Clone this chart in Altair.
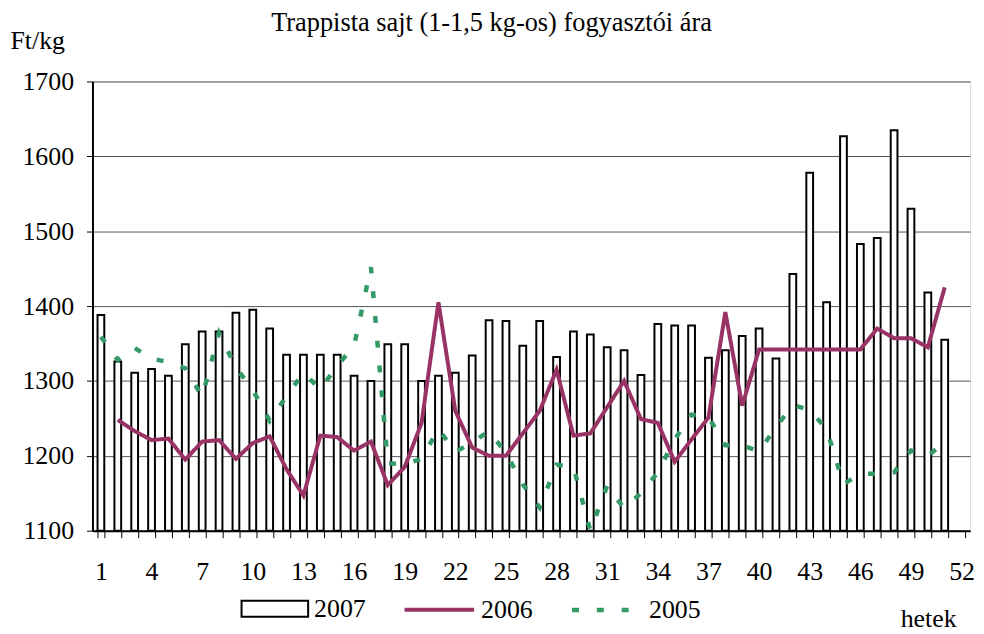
import altair as alt
import pandas as pd

# ---- data ----
weeks_all = list(range(1, 53))

weeks_2007 = list(range(1, 52))
price_2007 = [1388, 1326, 1311, 1316, 1307, 1349, 1366, 1366, 1391, 1395,
              1370, 1335, 1335, 1335, 1335, 1307, 1300, 1349, 1349, 1300,
              1307, 1311, 1334, 1381, 1380, 1347, 1380, 1332, 1366, 1362,
              1345, 1341, 1308, 1376, 1374, 1374, 1331, 1341, 1360, 1370,
              1330, 1443, 1578, 1405, 1627, 1483, 1491, 1635, 1530, 1418,
              1355]

weeks_2006 = list(range(2, 52))
price_2006 = [1248, 1233, 1221, 1223, 1195, 1219, 1221, 1196, 1217,
              1226, 1182, 1147, 1227, 1225, 1207, 1219, 1161, 1185, 1244,
              1405, 1260, 1211, 1200, 1200, 1230, 1260, 1315, 1227, 1230,
              1265, 1300, 1249, 1244, 1192, 1222, 1251, 1392, 1267, 1342,
              1342, 1342, 1342, 1342, 1342, 1342, 1370, 1357, 1357, 1345,
              1425]

weeks_2005 = list(range(1, 52))
price_2005 = [1359, 1328, 1344, 1330, 1325, 1317, 1279, 1364, 1318, 1288,
              1247, 1280, 1311, 1289, 1320, 1347, 1452, 1190, 1189, 1196,
              1236, 1205, 1218, 1233, 1204, 1162, 1131, 1188, 1185, 1100,
              1160, 1130, 1150, 1178, 1222, 1255, 1252, 1214, 1214, 1206,
              1238, 1268, 1261, 1236, 1162, 1176, 1176, 1178, 1207, 1200,
              1218]

y_ticks = [1100, 1200, 1300, 1400, 1500, 1600, 1700]
y_min, y_max = 1100, 1700

FONT = "Liberation Serif"
FS = 26
C2006 = "#993366"
C2005 = "#339966"
W, H = 883, 452

bars_df = pd.DataFrame({"week": weeks_2007, "price": price_2007, "series": "2007"})
lines_df = pd.concat([
    pd.DataFrame({"week": weeks_2006, "price": price_2006, "series": "2006"}),
    pd.DataFrame({"week": weeks_2005, "price": price_2005, "series": "2005"}),
], ignore_index=True)

x_enc = alt.X(
    "week:O",
    scale=alt.Scale(domain=weeks_all, paddingInner=0.6, paddingOuter=0.3),
    axis=alt.Axis(
        labelExpr="(datum.value - 1) % 3 == 0 ? datum.value : ''",
        labelAngle=0, labelOverlap=False, tickBand="extent",
        tickSize=7, tickColor="black", tickWidth=1,
        domainColor="black", domainWidth=2, grid=False,
        labelFont=FONT, labelFontSize=FS, labelColor="black",
        labelBaseline="alphabetic", labelPadding=42,
        title="hetek", titleFont=FONT, titleFontSize=FS, titleFontWeight="normal",
        titleColor="black", titleX=869, titleY=96, titleAlign="right",
        titleBaseline="alphabetic",
    ),
)

y_enc = alt.Y(
    "price:Q",
    scale=alt.Scale(domain=[y_min, y_max], nice=False, zero=False),
    axis=alt.Axis(
        values=y_ticks, format="d", grid=True, gridColor="#555555", gridWidth=1,
        tickSize=6, tickColor="black", tickWidth=1,
        domainColor="black", domainWidth=2,
        labelFont=FONT, labelFontSize=FS, labelColor="black", labelPadding=13,
        title="Ft/kg", titleFont=FONT, titleFontSize=FS, titleFontWeight="normal",
        titleColor="black", titleAngle=0, titleX=-83, titleY=-33,
        titleAlign="left", titleBaseline="alphabetic",
    ),
)

bars = alt.Chart(bars_df).mark_bar(stroke="black", strokeWidth=2).encode(
    x=x_enc,
    y=y_enc,
    y2=alt.datum(y_min),
    fill=alt.Fill(
        "series:N",
        scale=alt.Scale(domain=["2007"], range=["white"]),
        legend=alt.Legend(
            title=None, orient="none", legendX=149, legendY=496,
            direction="horizontal", padding=0,
            symbolType="M-1,-0.24H1V0.24H-1Z", symbolSize=4489,
            symbolStrokeColor="black", symbolStrokeWidth=2,
            labelFont=FONT, labelFontSize=FS, labelColor="black", labelOffset=5,
        ),
    ),
)

line_legend = alt.Legend(
    title=None, orient="none", legendX=312, legendY=494,
    direction="horizontal", padding=0, columnPadding=30,
    symbolType="stroke", symbolSize=4900, symbolStrokeWidth=4.2,
    labelFont=FONT, labelFontSize=FS, labelColor="black", labelOffset=5,
)

lines = alt.Chart(lines_df).mark_line().encode(
    x=x_enc,
    y=y_enc,
    stroke=alt.Stroke(
        "series:N", sort=["2006", "2005"],
        scale=alt.Scale(domain=["2006", "2005"], range=[C2006, C2005]),
        legend=line_legend,
    ),
    strokeDash=alt.StrokeDash(
        "series:N", sort=["2006", "2005"],
        scale=alt.Scale(domain=["2006", "2005"], range=[[1, 0], [7, 18]]),
        legend=line_legend,
    ),
    strokeWidth=alt.StrokeWidth(
        "series:N",
        scale=alt.Scale(domain=["2006", "2005"], range=[4, 4.5]),
        legend=None,
    ),
)

chart = alt.layer(bars, lines).properties(
    width=W,
    height=H,
    autosize=alt.AutoSizeParams(type="none"),
    padding={"left": 85, "top": 72, "right": 6, "bottom": 100},
    title=alt.TitleParams(
        "Trappista sajt (1-1,5 kg-os) fogyasztói ára",
        font=FONT, fontSize=26.5, fontWeight="normal", color="black",
        anchor="middle", frame="group", offset=-30, baseline="alphabetic", dx=-40,
    ),
).configure_view(stroke="black", strokeWidth=1.5).configure(background="white")

chart.save("out.html", embed_options={"renderer": "svg", "actions": False})
